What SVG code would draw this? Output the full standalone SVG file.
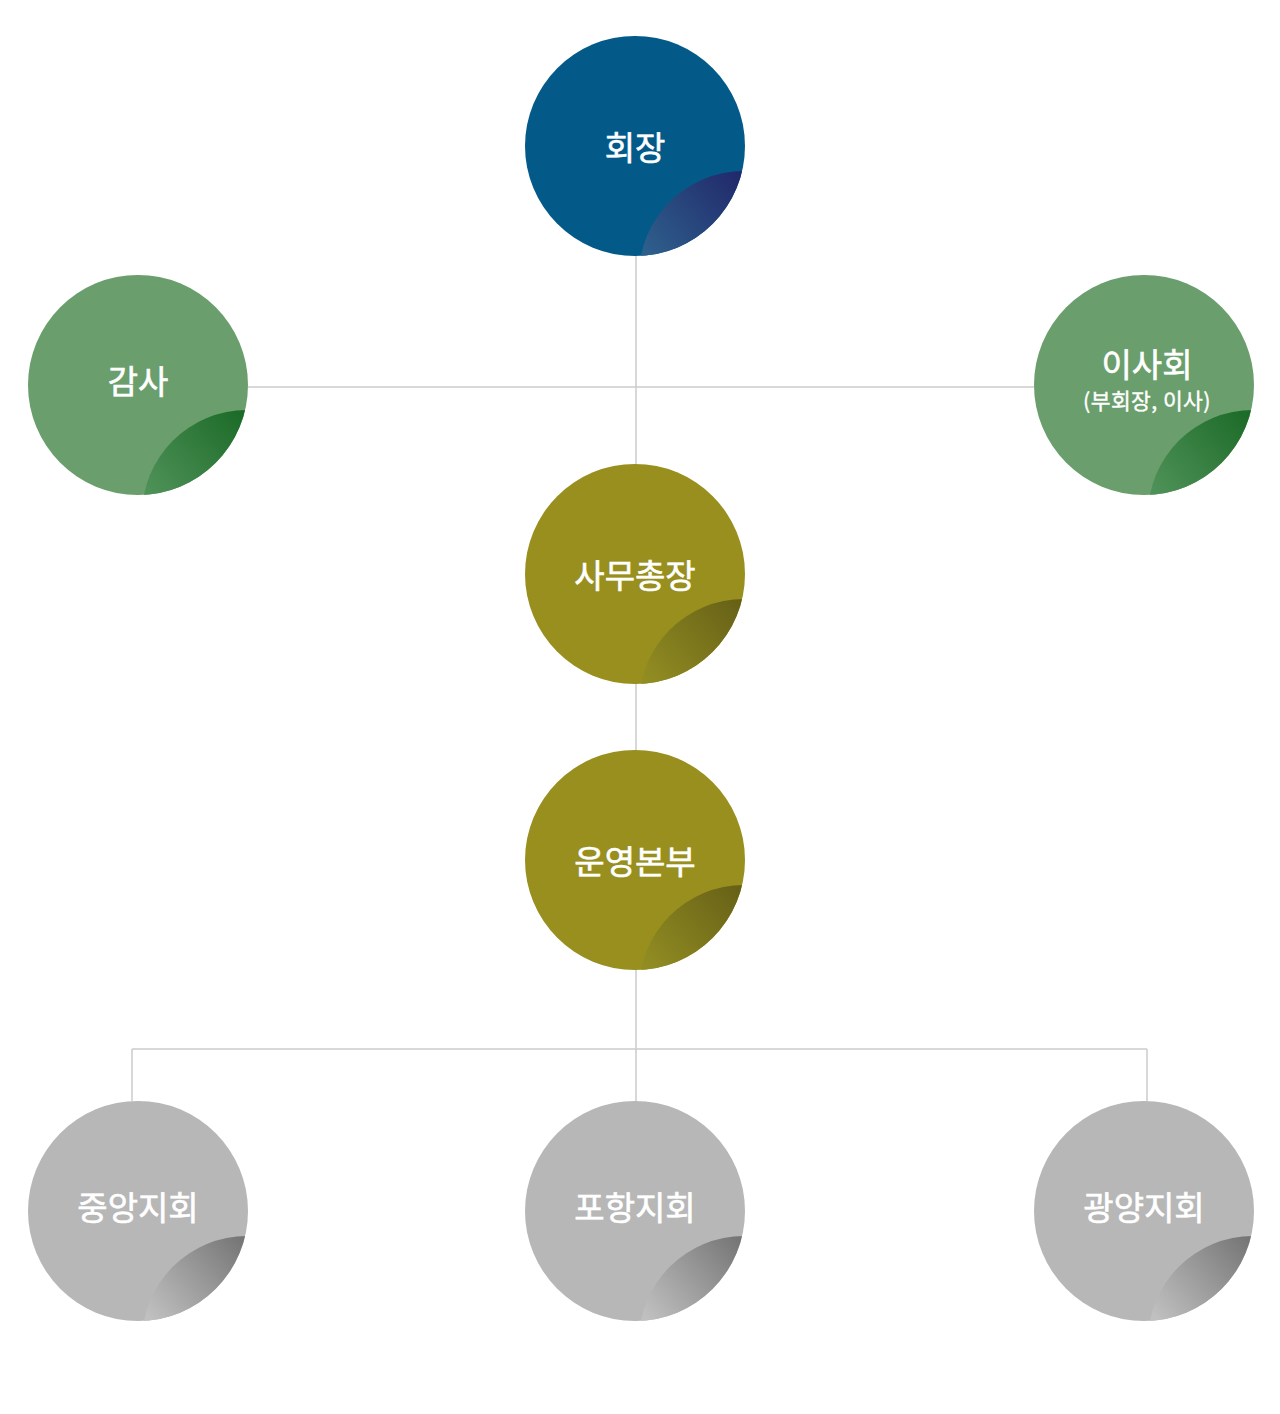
<svg xmlns="http://www.w3.org/2000/svg" width="1280" height="1414" viewBox="0 0 1280 1414">
<defs>
<clipPath id="cc"><circle cx="0" cy="0" r="110"/></clipPath>
<linearGradient id="gBlue" gradientUnits="userSpaceOnUse" x1="10" y1="105" x2="105" y2="25"><stop offset="0" stop-color="#2e5f8c"/><stop offset="1" stop-color="#21286a"/></linearGradient>
<linearGradient id="gGreen" gradientUnits="userSpaceOnUse" x1="10" y1="105" x2="105" y2="25"><stop offset="0" stop-color="#4e9158"/><stop offset="1" stop-color="#1b6a27"/></linearGradient>
<linearGradient id="gOlive" gradientUnits="userSpaceOnUse" x1="10" y1="105" x2="105" y2="25"><stop offset="0" stop-color="#928d22"/><stop offset="1" stop-color="#666017"/></linearGradient>
<linearGradient id="gGray" gradientUnits="userSpaceOnUse" x1="10" y1="105" x2="105" y2="25"><stop offset="0" stop-color="#c0c0c0"/><stop offset="1" stop-color="#747474"/></linearGradient>
</defs>
<style>
.lk{stroke:#cccccc;stroke-width:1.5;fill:none}
.t{font-family:"Noto Sans CJK KR","Noto Sans",sans-serif;font-size:33px;font-weight:400;fill:#ffffff;stroke:#ffffff;stroke-width:0.6;text-anchor:middle}
.s{font-size:21.5px;stroke-width:0.4;letter-spacing:0.4px}
.blue{fill:#035a89}
.green{fill:#6a9e6c}
.olive{fill:#988f1e}
.gray{fill:#b7b7b7}
</style>
<rect width="1280" height="1414" fill="#ffffff"/>
<g id="connectors">
<path class="lk" d="M636 256V464M248 387H1034M636 684V750M636 970V1101M132 1049H1147M132 1049V1101M1147 1049V1101"/>
</g>
<g id="n-president" transform="translate(635,146)">
<circle class="blue" r="110"/>
<circle cx="109" cy="130" r="105" fill="url(#gBlue)" clip-path="url(#cc)"/>
<text class="t" x="0" y="14">회장</text>
</g>
<g id="n-audit" transform="translate(138,385)">
<circle class="green" r="110"/>
<circle cx="109" cy="130" r="105" fill="url(#gGreen)" clip-path="url(#cc)"/>
<text class="t" x="0" y="9">감사</text>
</g>
<g id="n-board" transform="translate(1144,385)">
<circle class="green" r="110"/>
<circle cx="109" cy="130" r="105" fill="url(#gGreen)" clip-path="url(#cc)"/>
<text class="t" x="3" y="-8">이사회</text>
<text class="t s" x="3" y="24">(부회장, 이사)</text>
</g>
<g id="n-secgen" transform="translate(635,574)">
<circle class="olive" r="110"/>
<circle cx="109" cy="130" r="105" fill="url(#gOlive)" clip-path="url(#cc)"/>
<text class="t" x="0" y="14">사무총장</text>
</g>
<g id="n-ops" transform="translate(635,860)">
<circle class="olive" r="110"/>
<circle cx="109" cy="130" r="105" fill="url(#gOlive)" clip-path="url(#cc)"/>
<text class="t" x="0" y="14">운영본부</text>
</g>
<g id="n-central" transform="translate(138,1211)">
<circle class="gray" r="110"/>
<circle cx="109" cy="130" r="105" fill="url(#gGray)" clip-path="url(#cc)"/>
<text class="t" x="0" y="9">중앙지회</text>
</g>
<g id="n-pohang" transform="translate(635,1211)">
<circle class="gray" r="110"/>
<circle cx="109" cy="130" r="105" fill="url(#gGray)" clip-path="url(#cc)"/>
<text class="t" x="0" y="9">포항지회</text>
</g>
<g id="n-gwangyang" transform="translate(1144,1211)">
<circle class="gray" r="110"/>
<circle cx="109" cy="130" r="105" fill="url(#gGray)" clip-path="url(#cc)"/>
<text class="t" x="0" y="9">광양지회</text>
</g>
</svg>
